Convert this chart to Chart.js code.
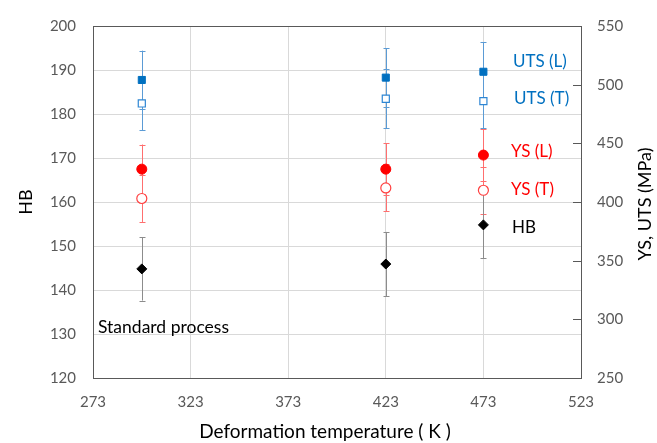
<!DOCTYPE html>
<html>
<head>
<meta charset="utf-8">
<script src="https://cdn.jsdelivr.net/npm/chart.js@4/dist/chart.umd.min.js"></script>
<style>
  html, body { margin: 0; padding: 0; background: #ffffff; }
  #wrap { width: 657px; height: 443px; position: relative; }
</style>
</head>
<body>
<div id="wrap"><canvas id="c" width="657" height="443"></canvas></div>
<script>
// ---- data ----
const temps   = [298, 423, 473];              // deformation temperature (K)
const utsL    = [504, 506, 511];              // MPa
const utsLErr = [25, 25, 25];
const utsT    = [484, 488, 486];
const utsTErr = [23, 25, 23];
const ysL     = [428, 428, 440];
const ysLErr  = [21, 22, 22];
const ysT     = [403, 412, 410];
const ysTErr  = [20, 20, 20];
const hb      = [144.8, 145.9, 154.8];        // HB
const hbErr   = [7.2, 7.3, 7.6];

const xTicks  = [273, 323, 373, 423, 473, 523];
const hbRange = [120, 200];
const mpaRange = [250, 550];

const seriesLabels = ['UTS (L)', 'UTS (T)', 'YS (L)', 'YS (T)', 'HB'];
const annotText = 'Standard process';
const xTitle = 'Deformation temperature ( K )';
const yTitle = 'HB';
const y2Title = 'YS, UTS (MPa)';

const FONT = 'Lato, "Open Sans", sans-serif';

function pts(xs, ys) { return xs.map((x, i) => ({ x: x, y: ys[i] })); }

const errorSets = [
  { axis: 'y2', vals: utsL, errs: utsLErr, color: '#5b9bd5' },
  { axis: 'y2', vals: utsT, errs: utsTErr, color: '#5b9bd5' },
  { axis: 'y2', vals: ysL,  errs: ysLErr,  color: '#ff6f6f' },
  { axis: 'y2', vals: ysT,  errs: ysTErr,  color: '#ff6f6f' },
  { axis: 'y',  vals: hb,   errs: hbErr,   color: '#8c8c8c' }
];

const decorPlugin = {
  id: 'decor',
  beforeDatasetsDraw(chart) {
    const ctx = chart.ctx, xs = chart.scales.x, a = chart.chartArea;
    ctx.save();
    ctx.beginPath();
    ctx.rect(a.left, a.top, a.right - a.left, a.bottom - a.top);
    ctx.clip();
    ctx.lineWidth = 1;
    errorSets.forEach(s => {
      const ys = chart.scales[s.axis];
      ctx.strokeStyle = s.color;
      s.vals.forEach((v, i) => {
        const px = Math.round(xs.getPixelForValue(temps[i])) + 0.5;
        const top = ys.getPixelForValue(v + s.errs[i]);
        const bot = ys.getPixelForValue(v - s.errs[i]);
        ctx.beginPath();
        ctx.moveTo(px, top); ctx.lineTo(px, bot);
        ctx.moveTo(px - 3, Math.round(top) + 0.5); ctx.lineTo(px + 3, Math.round(top) + 0.5);
        ctx.moveTo(px - 3, Math.round(bot) + 0.5); ctx.lineTo(px + 3, Math.round(bot) + 0.5);
        ctx.stroke();
      });
    });
    ctx.restore();
  },
  afterDraw(chart) {
    const ctx = chart.ctx, a = chart.chartArea, y2 = chart.scales.y2;
    ctx.save();
    // plot frame
    ctx.strokeStyle = '#595959';
    ctx.lineWidth = 1;
    ctx.strokeRect(Math.round(a.left) + 0.5, Math.round(a.top) + 0.5, Math.round(a.right - a.left), Math.round(a.bottom - a.top));
    // inside tick marks on right axis
    y2.ticks.forEach(t => {
      const py = Math.round(y2.getPixelForValue(t.value)) + 0.5;
      ctx.beginPath();
      ctx.moveTo(a.right - 8, py); ctx.lineTo(a.right, py);
      ctx.stroke();
    });
    // x axis title
    ctx.fillStyle = '#000000';
    ctx.font = '19px ' + FONT;
    ctx.textAlign = 'center';
    ctx.textBaseline = 'middle';
    ctx.fillText(xTitle, 325, 432);
    // right axis title (reads bottom to top)
    ctx.font = '18px ' + FONT;
    ctx.translate(645, (a.top + a.bottom) / 2 + 2);
    ctx.rotate(-Math.PI / 2);
    ctx.fillText(y2Title, 0, 0);
    ctx.restore();

    // series labels
    ctx.save();
    ctx.font = '17px ' + FONT;
    ctx.textAlign = 'left';
    ctx.textBaseline = 'middle';
    const items = [
      [seriesLabels[0], '#0070c0', 513, 62],
      [seriesLabels[1], '#0070c0', 514, 99],
      [seriesLabels[2], '#ff0000', 511, 152],
      [seriesLabels[3], '#ff0000', 511, 190],
      [seriesLabels[4], '#000000', 512, 228]
    ];
    items.forEach(it => { ctx.fillStyle = it[1]; ctx.fillText(it[0], it[2], it[3]); });
    ctx.fillStyle = '#000000';
    ctx.font = '17.5px ' + FONT;
    ctx.fillText(annotText, 98, 327);
    ctx.restore();
  }
};

const tickFont = { family: FONT, size: 15 };
const tickColor = '#595959';

new Chart(document.getElementById('c'), {
  type: 'scatter',
  data: {
    datasets: [
      { label: seriesLabels[0], data: pts(temps, utsL), yAxisID: 'y2', pointStyle: 'rect', pointRadius: 5,
        backgroundColor: '#0070c0', borderColor: '#0070c0', borderWidth: 1 },
      { label: seriesLabels[1], data: pts(temps, utsT), yAxisID: 'y2', pointStyle: 'rect', pointRadius: 5,
        backgroundColor: '#ffffff', borderColor: '#2e86d4', borderWidth: 1.2 },
      { label: seriesLabels[2], data: pts(temps, ysL), yAxisID: 'y2', pointStyle: 'circle', pointRadius: 5,
        backgroundColor: '#ff0000', borderColor: '#ff0000', borderWidth: 1 },
      { label: seriesLabels[3], data: pts(temps, ysT), yAxisID: 'y2', pointStyle: 'circle', pointRadius: 5,
        backgroundColor: '#ffffff', borderColor: '#ff4040', borderWidth: 1.2 },
      { label: seriesLabels[4], data: pts(temps, hb), yAxisID: 'y', pointStyle: 'rectRot', pointRadius: 5,
        backgroundColor: '#000000', borderColor: '#000000', borderWidth: 1 }
    ]
  },
  options: {
    responsive: false,
    animation: false,
    devicePixelRatio: 1,
    layout: { padding: { top: 20, left: 0, right: 0, bottom: 0 } },
    plugins: { legend: { display: false }, tooltip: { enabled: false } },
    scales: {
      x: {
        type: 'linear', position: 'bottom',
        min: xTicks[0], max: xTicks[xTicks.length - 1],
        afterBuildTicks: s => { s.ticks = xTicks.map(v => ({ value: v })); },
        afterFit: s => { s.height = 65; },
        grid: { color: '#d9d9d9', drawTicks: false },
        border: { display: true, color: '#595959' },
        ticks: { font: tickFont, color: tickColor, padding: 15, maxRotation: 0 }
      },
      y: {
        type: 'linear', position: 'left',
        min: hbRange[0], max: hbRange[1],
        ticks: { stepSize: 10, font: tickFont, color: tickColor, padding: 17 },
        afterFit: s => { s.width = 93; },
        grid: { color: '#d9d9d9', drawTicks: false },
        border: { display: true, color: '#595959' },
        title: { display: true, text: yTitle, font: { family: FONT, size: 18 }, color: '#000000', padding: { top: 15, bottom: 0 } }
      },
      y2: {
        type: 'linear', position: 'right',
        min: mpaRange[0], max: mpaRange[1],
        ticks: { stepSize: 50, font: tickFont, color: tickColor, padding: 16 },
        afterFit: s => { s.width = 76; },
        grid: { drawOnChartArea: false, drawTicks: false },
        border: { display: true, color: '#595959' }
      }
    }
  },
  plugins: [decorPlugin]
});
</script>
</body>
</html>
